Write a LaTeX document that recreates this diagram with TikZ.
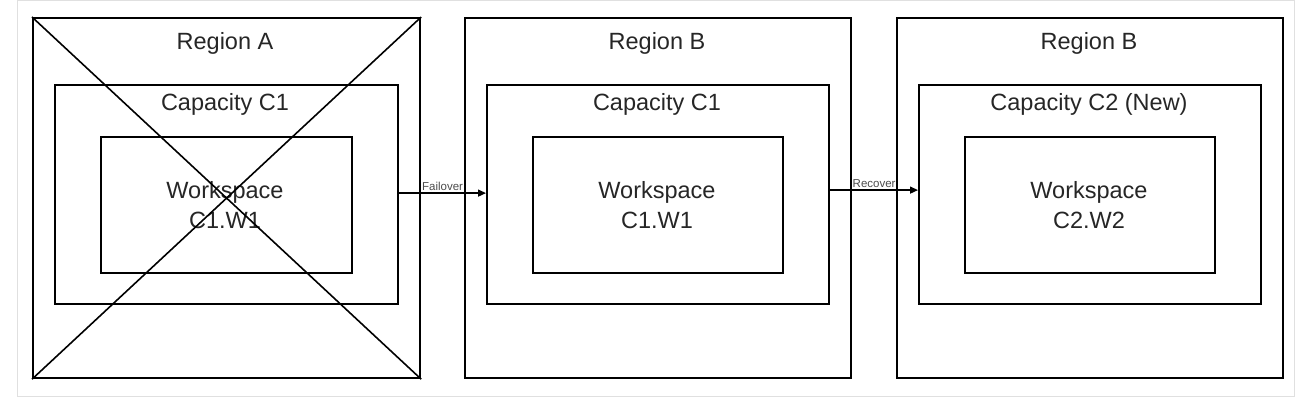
\documentclass[tikz,border=0pt]{standalone}
\usepackage{fontspec}
\setmainfont{Liberation Sans}
\usetikzlibrary{arrows.meta}
\begin{document}
\begin{tikzpicture}[x=1pt,y=-1pt,
  box/.style={draw=black,line width=2.2pt,rectangle,inner sep=0pt,anchor=north west},
  ttl/.style={font=\fontsize{23.5}{30}\selectfont,text=black!85,inner sep=0pt,anchor=center,align=center},
  arr/.style={line width=1.4pt,-{Triangle[length=8pt,width=7pt]}},
  lbl/.style={font=\fontsize{11.5}{13}\selectfont,text=black!70,inner sep=1.5pt},
  xline/.style={line width=1.6pt}]
\useasboundingbox (0,0) rectangle (1298,406);
\draw[black!12,line width=1pt] (17,0.5) rectangle (1294,396);
% Region A
\node[box,minimum width=387,minimum height=360] (regA) at (32,17) {};
\node[box,minimum width=343,minimum height=219] (capA) at (54,84) {};
\node[box,minimum width=251,minimum height=136] (wsA) at (100,136) {};
\node[ttl] (tRA) at (225,43) {Region A};
\node[ttl] (tCA) at (225,104) {Capacity C1};
\node[ttl] (tWA) at (225,205) {Workspace\\C1.W1};
% Region B
\node[box,minimum width=386,minimum height=360] (regB) at (464,17) {};
\node[box,minimum width=342,minimum height=219] (capB) at (486,84) {};
\node[box,minimum width=250,minimum height=136] (wsB) at (532,136) {};
\node[ttl] (tRB) at (657,43) {Region B};
\node[ttl] (tCB) at (657,104) {Capacity C1};
\node[ttl] (tWB) at (657,205) {Workspace\\C1.W1};
% Region C
\node[box,minimum width=386,minimum height=360] (regC) at (896,17) {};
\node[box,minimum width=342,minimum height=219] (capC) at (918,84) {};
\node[box,minimum width=250,minimum height=136] (wsC) at (964,136) {};
\node[ttl] (tRC) at (1089,43) {Region B};
\node[ttl] (tCC) at (1089,104) {Capacity C2 (New)};
\node[ttl] (tWC) at (1089,205) {Workspace\\C2.W2};
% cross
\draw[xline] (regA.north west) -- (regA.south east);
\draw[xline] (regA.north east) -- (regA.south west);
% arrows
\draw[arr] ([yshift=1.5pt]capA.east) -- node[above,lbl] {Failover} ([yshift=1.5pt]capB.west);
\draw[arr] ([yshift=4.5pt]capB.east) -- node[above,lbl] {Recover} ([yshift=4.5pt]capC.west);
\end{tikzpicture}
\end{document}
